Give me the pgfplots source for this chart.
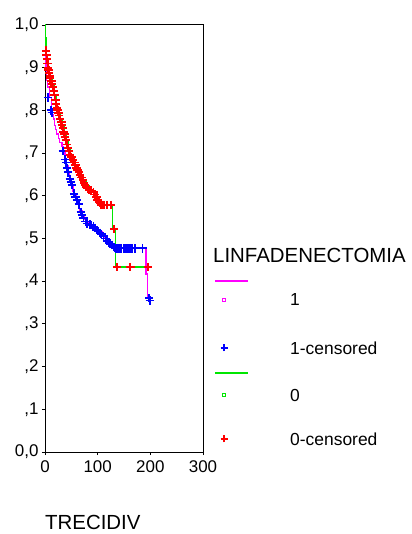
\documentclass[border=0pt]{standalone}
\usepackage{fontspec}
\setmainfont{Liberation Sans}
\usepackage{pgfplots}
\pgfplotsset{compat=1.18}
\definecolor{kmmag}{RGB}{255,0,255}
\definecolor{kmblue}{RGB}{0,0,255}
\definecolor{kmgreen}{RGB}{0,230,0}
\definecolor{kmred}{RGB}{255,0,0}
\begin{document}
\begin{tikzpicture}
\begin{axis}[
  at={(0,0)}, anchor=south west,
  scale only axis, width=158bp, height=427bp,
  xmin=0, xmax=300, ymin=0, ymax=1,
  xtick={0,100,200,300}, xticklabels={0,100,200,300},
  ytick={0,0.1,0.2,0.3,0.4,0.5,0.6,0.7,0.8,0.9,1},
  yticklabels={{0,0},{,1},{,2},{,3},{,4},{,5},{,6},{,7},{,8},{,9},{1,0}},
  tick align=outside, xtick pos=bottom, ytick pos=left,
  major tick length=3bp,
  tick style={black, line width=0.8bp},
  axis line style={black, line width=1bp},
  tick label style={font=\fontsize{17}{20}\selectfont},
  xticklabel style={yshift=-2bp},
  xlabel={TRECIDIV},
  xlabel style={at={(axis description cs:0,0)}, anchor=base west, inner sep=0pt, yshift=-77bp, font=\fontsize{20.5}{24}\selectfont},
  clip=false,
]
% group 1 survival (magenta)
\addplot[const plot, kmmag, line width=1.3bp, mark=none] coordinates {
(0,1.0) (1,0.95) (2,0.90) (3,0.87) (5,0.855) (8,0.83) (12,0.80) (14,0.79) (16,0.78)
(18,0.765) (20,0.755) (22,0.745) (25,0.735) (28,0.725) (32,0.715) (35,0.705) (38,0.685)
(41,0.67) (44,0.655) (47,0.64) (50,0.625) (53,0.61) (56,0.6) (60,0.59) (63,0.58)
(66,0.565) (70,0.555) (74,0.545) (78,0.538) (84,0.533) (90,0.528) (96,0.522)
(102,0.515) (108,0.508) (114,0.502) (118,0.495) (122,0.49) (126,0.485) (130,0.48)
(134,0.477) (192,0.417) (195,0.36) (198,0.36)};
% group 1 censored (blue +)
\addplot[only marks, kmblue, mark=+, mark size=4.2bp, line width=1.8bp] coordinates {
(6,0.83) (11,0.80) (13,0.795) (34,0.705) (38,0.685) (40,0.678) (42,0.665) (44,0.655)
(47,0.64) (49,0.632) (51,0.625) (55,0.605) (58,0.597) (61,0.59) (64,0.58) (68,0.562)
(70,0.555) (73,0.548) (77,0.54) (80,0.535) (85,0.533) (88,0.531) (92,0.528) (95,0.525)
(98,0.52) (101,0.517) (104,0.513) (107,0.51) (111,0.505) (115,0.5) (118,0.495)
(121,0.49) (124,0.488) (127,0.485) (130,0.48) (133,0.478) (135,0.477) (138,0.477)
(141,0.477) (145,0.477) (150,0.477) (153,0.477) (156,0.477) (160,0.477) (163,0.477)
(166,0.477) (171,0.477) (185,0.477) (198,0.36) (199,0.355)};
% group 0 survival (green)
\addplot[const plot, kmgreen, line width=1.3bp, mark=none] coordinates {
(0,1.0) (1,0.97) (2,0.94) (3,0.93) (4,0.915) (6,0.90) (8,0.888) (10,0.876) (14,0.86)
(18,0.836) (22,0.808) (26,0.794) (30,0.778) (33,0.761) (36,0.747) (40,0.73) (44,0.712)
(48,0.696) (53,0.684) (58,0.672) (62,0.66) (66,0.649) (72,0.637) (78,0.623) (85,0.614)
(92,0.609) (98,0.597) (104,0.583) (110,0.578) (128,0.522) (134,0.433) (196,0.433)};
% group 0 censored (red +)
\addplot[only marks, kmred, mark=+, mark size=4.2bp, line width=1.8bp] coordinates {
(2,0.94) (3,0.93) (4,0.92) (5,0.91) (6,0.90) (7,0.895) (8,0.888) (9,0.88) (10,0.875)
(12,0.868) (13,0.862) (15,0.855) (17,0.845) (18,0.836) (20,0.825) (21,0.815) (23,0.806)
(24,0.8) (26,0.794) (27,0.788) (29,0.78) (31,0.772) (32,0.765) (34,0.758) (35,0.75)
(37,0.745) (38,0.738) (40,0.73) (42,0.72) (44,0.712) (46,0.705) (48,0.696) (50,0.69)
(53,0.684) (56,0.678) (58,0.672) (60,0.665) (62,0.66) (64,0.655) (66,0.649) (69,0.643)
(72,0.637) (74,0.63) (76,0.625) (79,0.62) (81,0.617) (84,0.614) (88,0.612) (92,0.609)
(95,0.603) (98,0.597) (100,0.59) (102,0.585) (104,0.583) (106,0.578) (108,0.578)
(111,0.578) (113,0.578) (118,0.578) (125,0.578) (131,0.522) (137,0.433) (162,0.433)
(196,0.433)};
\end{axis}
% legend
\node[anchor=base west, inner sep=0pt, font=\fontsize{20.5}{24}\selectfont] at (168bp,189bp) {LINFADENECTOMIA};
\draw[kmmag, line width=1.5bp] (170bp,171bp) -- (203bp,171bp);
\draw[kmmag, line width=1.2bp] (177.2bp,150.2bp) rectangle (180.8bp,153.8bp);
\node[anchor=west, inner sep=0pt, font=\fontsize{17.5}{20}\selectfont] at (245bp,152bp) {1};
\draw[kmblue, line width=1.2bp] (175.5bp,104bp) -- (182.5bp,104bp) (179bp,100.5bp) -- (179bp,107.5bp);
\node[anchor=west, inner sep=0pt, font=\fontsize{17.5}{20}\selectfont] at (245bp,104bp) {1-censored};
\draw[kmgreen, line width=1.5bp] (170bp,79bp) -- (203bp,79bp);
\draw[kmgreen, line width=1.2bp] (177.2bp,55.2bp) rectangle (180.8bp,58.8bp);
\node[anchor=west, inner sep=0pt, font=\fontsize{17.5}{20}\selectfont] at (245bp,57bp) {0};
\draw[kmred, line width=1.2bp] (175.5bp,13bp) -- (182.5bp,13bp) (179bp,9.5bp) -- (179bp,16.5bp);
\node[anchor=west, inner sep=0pt, font=\fontsize{17.5}{20}\selectfont] at (245bp,13bp) {0-censored};
\pgfresetboundingbox
\path (-45bp,-82bp) rectangle (367bp,452bp);
\end{tikzpicture}
\end{document}
